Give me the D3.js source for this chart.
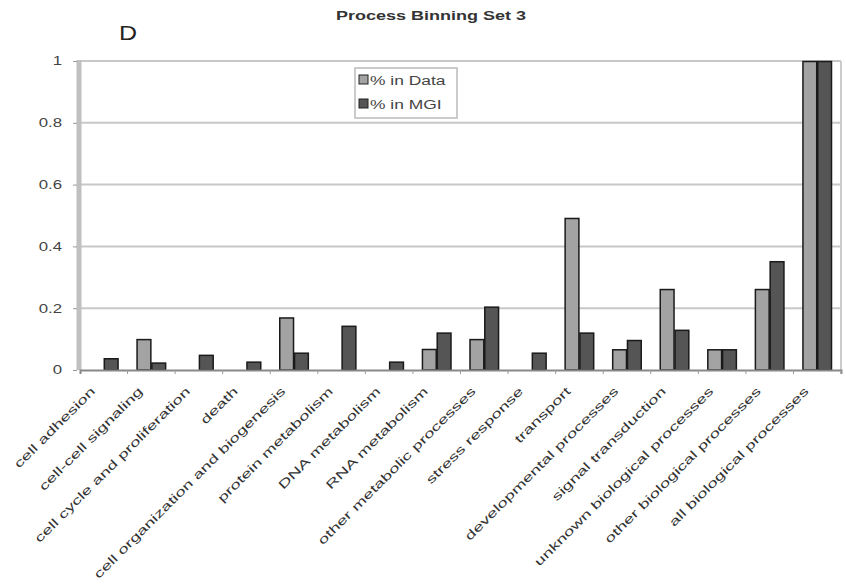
<!DOCTYPE html>
<html>
<head>
<meta charset="utf-8">
<script src="https://cdn.jsdelivr.net/npm/d3@7"></script>
<style>
  body { margin: 0; background: #fff; }
  svg { display: block; font-family: Arial, "Liberation Sans", sans-serif; }
</style>
</head>
<body>
<svg id="chart" width="846" height="585"></svg>
<script>
const categories = [
  "cell adhesion", "cell-cell signaling", "cell cycle and proliferation", "death",
  "cell organization and biogenesis", "protein metabolism", "DNA metabolism",
  "RNA metabolism", "other metabolic processes", "stress response", "transport",
  "developmental processes", "signal transduction", "unknown biological processes",
  "other biological processes", "all biological processes"
];
const seriesNames = ["% in Data", "% in MGI"];
const dataPct = [0, 0.10, 0, 0, 0.17, 0, 0, 0.068, 0.10, 0, 0.492, 0.067, 0.262, 0.067, 0.262, 1];
const mgiPct  = [0.038, 0.024, 0.049, 0.027, 0.056, 0.143, 0.027, 0.121, 0.205, 0.056, 0.121, 0.097, 0.13, 0.067, 0.352, 1];
const yTicks = [0, 0.2, 0.4, 0.6, 0.8, 1];
const yTickLabels = ["0", "0.2", "0.4", "0.6", "0.8", "1"];
const colors = ["#a3a3a3", "#555555"];

const svg = d3.select("#chart");
const mLeft = 80, mRight = 841, mTop = 61, mBottom = 370;
const STRETCH = 1.4; // the source picture is horizontally widened

function stretch(sel, k) {
  sel.each(function () {
    const len = this.getComputedTextLength();
    d3.select(this).attr("textLength", len * k).attr("lengthAdjust", "spacingAndGlyphs");
  });
}

const x = d3.scaleBand().domain(categories).range([mLeft, mRight]).paddingInner(0).paddingOuter(0);
const x1 = d3.scaleBand().domain(seriesNames).range([9, x.bandwidth() - 9]);
const y = d3.scaleLinear().domain([0, 1]).range([mBottom, mTop]);

// gridlines
svg.append("g").selectAll("line").data(yTicks.filter(d => d > 0)).join("line")
  .attr("x1", mLeft).attr("x2", mRight)
  .attr("y1", d => y(d)).attr("y2", d => y(d))
  .attr("stroke", "#c8c8c8").attr("stroke-width", 2);

// plot frame left and right
svg.append("line").attr("x1", mLeft - 1).attr("x2", mLeft - 1).attr("y1", mTop - 1).attr("y2", mBottom)
  .attr("stroke", "#c0c0c0").attr("stroke-width", 5);
svg.append("line").attr("x1", mRight).attr("x2", mRight).attr("y1", mTop).attr("y2", mBottom)
  .attr("stroke", "#cccccc").attr("stroke-width", 2);

// y axis
const yAxis = d3.axisLeft(y).tickValues(yTicks).tickFormat((d, i) => yTickLabels[i]).tickSize(4).tickPadding(11);
const gy = svg.append("g").attr("transform", `translate(${mLeft - 3},0)`).call(yAxis);
gy.select(".domain").remove();
gy.selectAll(".tick line").attr("stroke", "#999");
gy.selectAll(".tick text").attr("fill", "#444").attr("font-size", 12)
  .style("font-family", "Arial, 'Liberation Sans', sans-serif");
stretch(gy.selectAll(".tick text"), STRETCH);

// bars
const rows = categories.map((c, i) => ({ c, vals: [dataPct[i], mgiPct[i]] }));
const g = svg.append("g").selectAll("g").data(rows).join("g")
  .attr("transform", d => `translate(${x(d.c)},0)`);
g.selectAll("rect").data(d => d.vals.map((v, k) => ({ v, k })).filter(o => o.v > 0)).join("rect")
  .attr("x", o => x1(seriesNames[o.k]) + 0.5)
  .attr("width", x1.bandwidth() - 1)
  .attr("y", o => y(o.v) + 0.5)
  .attr("height", o => y(0) - y(o.v) - 0.5)
  .attr("fill", o => colors[o.k])
  .attr("stroke", "#1a1a1a").attr("stroke-width", 1.5);

// x axis
const xAxis = d3.axisBottom(x).tickSize(4).tickFormat("");
const gx = svg.append("g").attr("transform", `translate(0,${mBottom})`).call(xAxis);
gx.select(".domain").attr("stroke", "#888").attr("stroke-width", 2);
gx.selectAll(".tick line").attr("stroke", "#999")
  .attr("transform", `translate(${x.bandwidth() / 2},0)`);

// rotated labels
const xl = svg.append("g").selectAll("text").data(categories).join("text")
  .attr("transform", d => `translate(${x(d) + x.bandwidth() / 2 - 8},${mBottom + 22}) rotate(-45)`)
  .attr("text-anchor", "end")
  .attr("font-size", 12)
  .attr("fill", "#333")
  .text(d => d);
stretch(xl, 1.55);

// title and panel letter
const title = svg.append("text").attr("x", 431).attr("y", 20).attr("text-anchor", "middle")
  .attr("font-size", 12).attr("font-weight", "bold").attr("fill", "#333")
  .text("Process Binning Set 3");
stretch(title, 1.5);
const letter = svg.append("text").attr("x", 119).attr("y", 40).attr("font-size", 20).attr("fill", "#222").text("D");
stretch(letter, 1.25);

// legend
const lg = svg.append("g").attr("transform", "translate(355,68)");
lg.append("rect").attr("width", 102).attr("height", 50).attr("fill", "#fff").attr("stroke", "#bbb").attr("stroke-width", 1.5);
seriesNames.forEach((s, i) => {
  lg.append("rect").attr("x", 4).attr("y", 7 + i * 24).attr("width", 9).attr("height", 9)
    .attr("fill", colors[i]).attr("stroke", "#222").attr("stroke-width", 1);
  const t = lg.append("text").attr("x", 15).attr("y", 17 + i * 24).attr("font-size", 12).attr("fill", "#444").text(s);
  stretch(t, 1.45);
});
</script>
</body>
</html>
